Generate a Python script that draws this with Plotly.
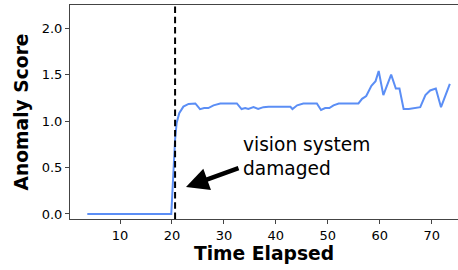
import plotly.graph_objects as go

time_elapsed = [3.7, 19.87, 20.6, 20.9, 21.4, 22.2, 23.2, 24.5, 25.4, 26.2, 27.0, 28.0, 29.3, 32.5,
                33.4, 34.1, 34.7, 35.7, 36.6, 37.6, 38.6, 42.8, 43.2, 44.1, 45.3, 47.9, 48.7, 49.5,
                50.3, 51.1, 52.1, 55.9, 56.6, 57.4, 58.4, 59.2, 59.8, 60.7, 62.2, 63.1, 63.8, 64.6,
                65.6, 66.5, 67.8, 68.8, 69.7, 70.8, 71.8, 73.5]
anomaly_score = [0.0, 0.0, 0.80, 0.98, 1.085, 1.156, 1.185, 1.19, 1.128, 1.14, 1.14, 1.17, 1.19, 1.19,
                 1.13, 1.14, 1.13, 1.15, 1.13, 1.15, 1.155, 1.155, 1.13, 1.17, 1.19, 1.19, 1.12, 1.14,
                 1.14, 1.17, 1.19, 1.19, 1.24, 1.27, 1.38, 1.43, 1.54, 1.28, 1.50, 1.35, 1.35, 1.13,
                 1.13, 1.14, 1.15, 1.28, 1.33, 1.35, 1.15, 1.40]
damage_time = 20.6
x_ticks = [10, 20, 30, 40, 50, 60, 70]
y_ticks = [0.0, 0.5, 1.0, 1.5, 2.0]
y_tick_labels = ["0.0", "0.5", "1.0", "1.5", "2.0"]

font = "DejaVu Sans"
fig = go.Figure()
fig.add_trace(go.Scatter(x=time_elapsed, y=anomaly_score, mode="lines",
                         line=dict(color="#5b8ef5", width=2), showlegend=False))
fig.add_shape(type="line", xref="x", yref="paper", x0=damage_time, x1=damage_time, y0=0, y1=1,
              line=dict(color="black", width=2, dash="6.5px,3.8px"))
fig.add_annotation(x=22.7, y=0.29, ax=33.1, ay=0.50, xref="x", yref="y", axref="x", ayref="y",
                   text="", showarrow=True, arrowhead=2, arrowsize=1, arrowwidth=4.5,
                   arrowcolor="black", standoff=0)
fig.add_annotation(x=33.2, y=0.88, xref="x", yref="y", text="vision system<br>damaged",
                   showarrow=False, xanchor="left", yanchor="top", align="left",
                   font=dict(family=font, size=18.6, color="black"))
fig.update_layout(
    width=458, height=270,
    margin=dict(l=70, r=0, t=5, b=51),
    plot_bgcolor="white", paper_bgcolor="white",
    font=dict(family=font, size=13, color="black"),
    xaxis=dict(range=[0.37, 75.07], tickvals=x_ticks, ticks="outside", ticklen=4,
               tickcolor="#444", linecolor="#444", linewidth=1, mirror=True, showgrid=False,
               zeroline=False, tickfont=dict(size=13), automargin=False,
               title=dict(text="<b>Time Elapsed</b>", font=dict(size=18.7), standoff=4)),
    yaxis=dict(range=[-0.054, 2.25], tickvals=y_ticks, ticktext=y_tick_labels, ticks="outside",
               ticklen=4, tickcolor="#444", linecolor="#444", linewidth=1, showgrid=False,
               zeroline=False, tickfont=dict(size=13), automargin=False,
               title=dict(text="<b>Anomaly Score</b>", font=dict(size=18.7), standoff=8)),
)
fig.write_html("out.html", config={"displayModeBar": False},
               post_script="document.body.style.margin='0';document.body.style.overflow='hidden';")
